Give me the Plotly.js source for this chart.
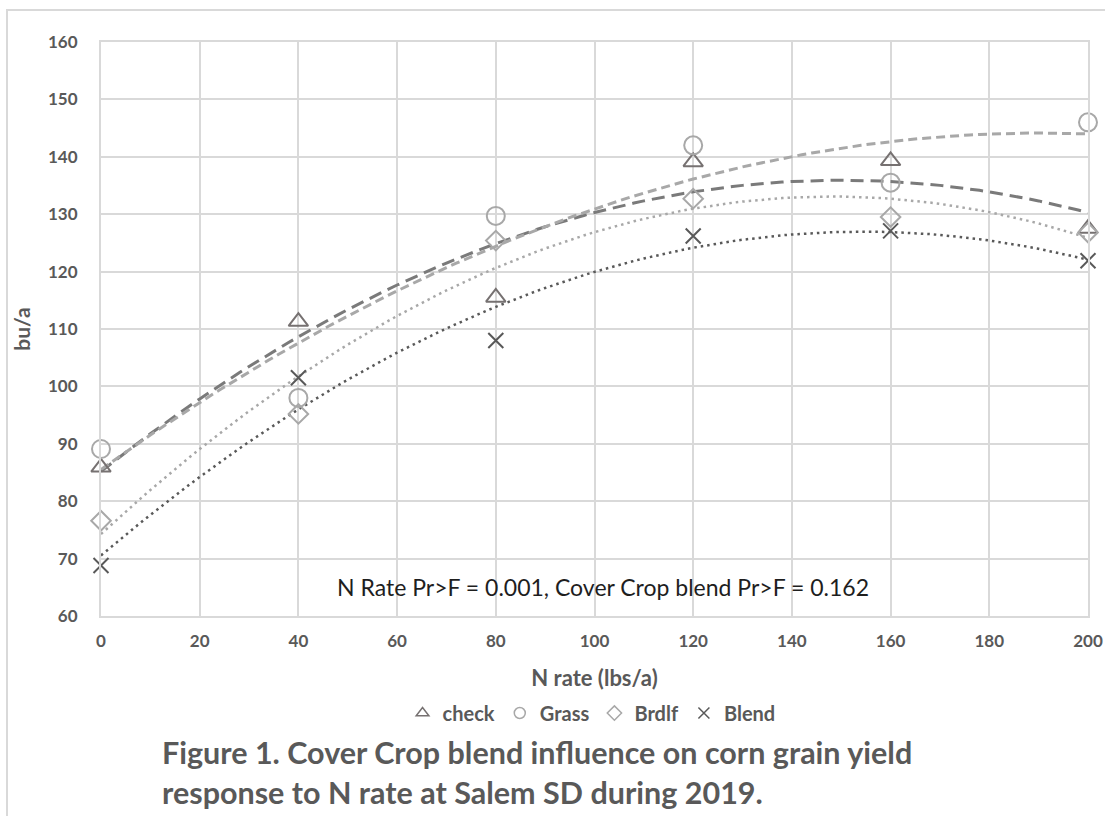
<!DOCTYPE html>
<html>
<head>
<meta charset="utf-8">
<script src="https://cdn.plot.ly/plotly-3.0.1.min.js"></script>
<style>
  html, body { margin: 0; padding: 0; background: #ffffff; }
  #chart { position: absolute; left: 0; top: 0; width: 1105px; height: 816px; }
  #frame { position: absolute; left: 6px; top: 9px; width: 1200px; height: 900px;
           border: 2px solid #d9d9d9; pointer-events: none; z-index: 5; }
</style>
</head>
<body>
<div id="chart"></div>
<div id="frame"></div>
<script>
// ---- data ----
const nRate = [0, 40, 80, 120, 160, 200];
const checkYield = [85.9, 111.3, 115.5, 139.1, 139.3, 127.5];
const grassYield = [89.1, 98.0, 129.7, 142.0, 135.5, 146.0];
const brdlfYield = [76.6, 95.2, 125.4, 132.7, 129.5, 126.8];
const blendYield = [68.8, 101.5, 108.0, 126.2, 127.1, 121.9];
const seriesNames = ["check", "Grass", "Brdlf", "Blend"];
const xTicks = [0, 20, 40, 60, 80, 100, 120, 140, 160, 180, 200];
const yTicks = [60, 70, 80, 90, 100, 110, 120, 130, 140, 150, 160];
const statText = "N Rate Pr>F = 0.001, Cover Crop blend Pr>F = 0.162";
const captionText = "Figure 1. Cover Crop blend influence on corn grain yield<br>response to N rate at Salem SD during 2019.";

// ---- styles ----
const styles = {
  check: { color: "#767171", symbol: "triangle-up-open", size: 17, lineColor: "#7a7a7a", dash: "13px,7px", width: 3 },
  Grass: { color: "#a8a8a8", symbol: "circle-open", size: 18, lineColor: "#a8a8a8", dash: "9px,5px", width: 3 },
  Brdlf: { color: "#a8a8a8", symbol: "diamond-open", size: 15, lineColor: "#a8a8a8", dash: "2.5px,4px", width: 2.5 },
  Blend: { color: "#595959", symbol: "x-thin-open", size: 15, lineColor: "#595959", dash: "2.5px,4px", width: 2.5 }
};

// Quadratic least-squares trendline (like Excel's polynomial order-2 trendline)
function quadFit(xs, ys) {
  let S = [0,0,0,0,0], T = [0,0,0];
  for (let i = 0; i < xs.length; i++) {
    const x = xs[i], y = ys[i];
    for (let k = 0; k < 5; k++) S[k] += Math.pow(x, k);
    for (let k = 0; k < 3; k++) T[k] += y * Math.pow(x, k);
  }
  const A = [[S[0],S[1],S[2],T[0]],[S[1],S[2],S[3],T[1]],[S[2],S[3],S[4],T[2]]];
  for (let c = 0; c < 3; c++) {
    for (let r = c + 1; r < 3; r++) {
      const f = A[r][c] / A[c][c];
      for (let k = c; k < 4; k++) A[r][k] -= f * A[c][k];
    }
  }
  const b = [0,0,0];
  for (let r = 2; r >= 0; r--) {
    let s = A[r][3];
    for (let k = r + 1; k < 3; k++) s -= A[r][k] * b[k];
    b[r] = s / A[r][r];
  }
  return b;
}

const allY = [checkYield, grassYield, brdlfYield, blendYield];
const traces = [];
const xs = [];
for (let x = 0; x <= 200; x += 2) xs.push(x);

seriesNames.forEach((name, i) => {
  const st = styles[name];
  const b = quadFit(nRate, allY[i]);
  traces.push({
    x: xs, y: xs.map(x => b[0] + b[1]*x + b[2]*x*x),
    mode: "lines", showlegend: false, hoverinfo: "skip",
    line: { color: st.lineColor, dash: st.dash, width: st.width },
    cliponaxis: false
  });
});
seriesNames.forEach((name, i) => {
  const st = styles[name];
  traces.push({
    x: nRate, y: allY[i], name: name, mode: "markers", showlegend: false,
    marker: { symbol: st.symbol, size: st.size, color: st.color, line: { color: st.color, width: 2 } },
    cliponaxis: false
  });
});
// legend entries (small symbols, as in the reference legend)
seriesNames.forEach((name) => {
  const st = styles[name];
  traces.push({
    x: [null], y: [null], name: name, mode: "markers", showlegend: true,
    marker: { symbol: st.symbol, size: 11, color: st.color, line: { color: st.color, width: 1.5 } }
  });
});

const fontFam = "Lato, 'Open Sans', sans-serif";
const layout = {
  width: 1105, height: 816,
  margin: { l: 101, r: 17, t: 42, b: 200 },
  paper_bgcolor: "#ffffff", plot_bgcolor: "#ffffff",
  font: { family: fontFam, color: "#595959" },
  xaxis: {
    range: [0, 200], tickvals: xTicks, ticktext: xTicks.map(String),
    showgrid: true, gridcolor: "#d9d9d9", gridwidth: 2,
    showline: true, linecolor: "#d9d9d9", linewidth: 2, mirror: true,
    zeroline: false, ticks: "", ticklabelstandoff: 9,
    tickfont: { family: fontFam, size: 17, color: "#595959", weight: "bold" },
    title: { text: "<b>N rate (lbs/a)</b>", font: { family: fontFam, size: 22, color: "#595959" }, standoff: 20 }
  },
  yaxis: {
    range: [60, 160], tickvals: yTicks, ticktext: yTicks.map(String),
    showgrid: true, gridcolor: "#d9d9d9", gridwidth: 2,
    showline: true, linecolor: "#d9d9d9", linewidth: 2, mirror: true,
    zeroline: false, ticks: "", ticklabelstandoff: 18,
    tickfont: { family: fontFam, size: 17, color: "#595959", weight: "bold" },
    title: { text: "<b>bu/a</b>", font: { family: fontFam, size: 21, color: "#595959" }, standoff: 12 }
  },
  legend: {
    orientation: "h", x: 0.497, xanchor: "center", y: -0.169, yanchor: "middle",
    font: { family: fontFam, size: 20, color: "#595959", weight: "bold" },
    itemwidth: 30, tracegroupgap: 0, bgcolor: "rgba(0,0,0,0)"
  },
  annotations: [
    { xref: "paper", yref: "paper", x: 0.509, y: (616 - 587) / 574, xanchor: "center", yanchor: "middle",
      text: statText, showarrow: false, font: { family: fontFam, size: 23, color: "#1e1e1e" } },
    { xref: "paper", yref: "paper", x: (160 - 101) / 987, y: (616 - 732) / 574, xanchor: "left", yanchor: "top",
      text: "<b>" + captionText + "</b>", align: "left", showarrow: false,
      font: { family: fontFam, size: 30.5, color: "#595959" } }
  ]
};

Plotly.newPlot("chart", traces, layout, { displayModeBar: false, staticPlot: true });
</script>
</body>
</html>
